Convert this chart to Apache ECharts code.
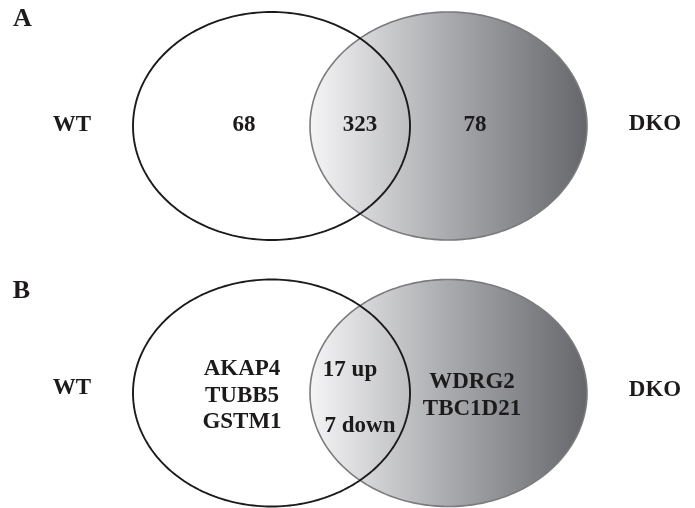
<!DOCTYPE html>
<html>
<head>
<meta charset="utf-8">
<script src="https://cdn.jsdelivr.net/npm/echarts@6/dist/echarts.min.js"></script>
<style>
html,body{margin:0;padding:0;background:#fff;}
#chart{width:695px;height:508px;}
</style>
</head>
<body>
<div id="chart"></div>
<script>
// ---- data (text content only) ----
const panelLabels = ['A', 'B'];
const setLabels = ['WT', 'DKO'];
const panelACounts = ['68', '323', '78'];          // WT only, shared, DKO only
const panelBWTOnly = ['AKAP4', 'TUBB5', 'GSTM1'];
const panelBShared = ['17 up', '7 down'];
const panelBDKOOnly = ['WDRG2', 'TBC1D21'];

// ---- layout (pixel-like data space, 1 unit = 1 px) ----
const ellipseLayout = [
  // [cx, cy, rx, ry, kind]  kind 1 = DKO (shaded), 0 = WT (outline)
  [448.5, 126, 138.5, 114, 1],
  [271.5, 126, 138.5, 114, 0],
  [448.5, 393, 138.5, 113.5, 1],
  [271.5, 393, 138.5, 113.5, 0]
];

const textItems = [];
function addText(x, y, text, size) { textItems.push([x, y, text, size]); }
addText(22.5, 19, panelLabels[0], 26);
addText(21.5, 291, panelLabels[1], 26);
addText(72, 125, setLabels[0], 23);
addText(655, 124, setLabels[1], 23);
addText(72, 388, setLabels[0], 23);
addText(655, 390, setLabels[1], 23);
[244, 360, 475].forEach((x, i) => addText(x, 125, panelACounts[i], 23));
[369, 396, 422].forEach((y, i) => addText(242, y, panelBWTOnly[i], 23));
addText(350, 370, panelBShared[0], 23);
addText(360, 426, panelBShared[1], 23);
[382, 409].forEach((y, i) => addText(472, y, panelBDKOOnly[i], 23));

const chart = echarts.init(document.getElementById('chart'), null, {renderer: 'canvas'});
const FONT = '"Liberation Serif", "Times New Roman", serif';

chart.setOption({
  animation: false,
  backgroundColor: '#ffffff',
  grid: {left: 0, right: 0, top: 0, bottom: 0},
  xAxis: {type: 'value', min: 0, max: 695, show: false},
  yAxis: {type: 'value', min: 0, max: 508, inverse: true, show: false},
  series: [
    {
      type: 'custom',
      coordinateSystem: 'cartesian2d',
      data: ellipseLayout,
      encode: {x: 0, y: 1},
      renderItem: function (params, api) {
        const cx = api.value(0), cy = api.value(1), rx = api.value(2), ry = api.value(3);
        const kind = api.value(4);
        const pts = [];
        const N = 240;
        for (let i = 0; i < N; i++) {
          const t = (i / N) * Math.PI * 2;
          pts.push(api.coord([cx + rx * Math.cos(t), cy + ry * Math.sin(t)]));
        }
        if (kind === 1) {
          return {
            type: 'polygon',
            shape: {points: pts},
            style: {
              fill: new echarts.graphic.LinearGradient(0, 0, 1, 0, [
                {offset: 0, color: '#f5f5f6'},
                {offset: 0.5, color: '#a9aaad'},
                {offset: 1, color: '#65666a'}
              ]),
              stroke: '#7b7b7d',
              lineWidth: 1.6
            }
          };
        }
        return {
          type: 'polygon',
          shape: {points: pts},
          style: {fill: 'none', stroke: '#1c1a1b', lineWidth: 1.9}
        };
      },
      z: 2
    },
    {
      type: 'custom',
      coordinateSystem: 'cartesian2d',
      data: textItems,
      encode: {x: 0, y: 1},
      renderItem: function (params, api) {
        const p = api.coord([api.value(0), api.value(1)]);
        const item = textItems[params.dataIndex];
        return {
          type: 'text',
          x: p[0],
          y: p[1],
          style: {
            text: item[2],
            fill: '#1c1a1b',
            font: 'bold ' + item[3] + 'px ' + FONT,
            align: 'center',
            verticalAlign: 'middle'
          }
        };
      },
      z: 3
    }
  ]
});
</script>
</body>
</html>
